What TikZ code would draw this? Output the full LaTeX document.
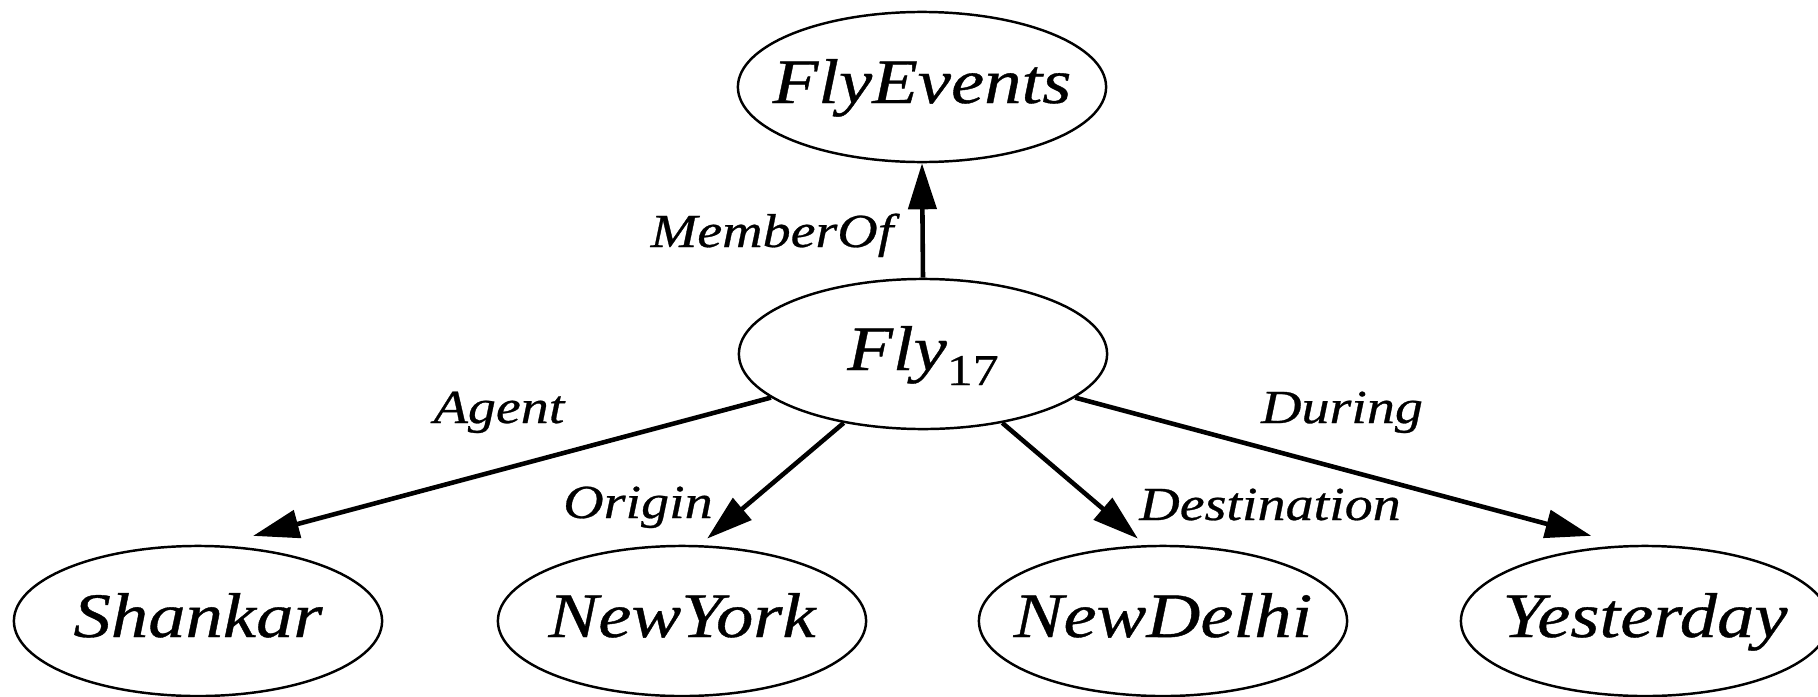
\documentclass[tikz,border=0pt]{standalone}
\usepackage{fontspec}
\setmainfont{Liberation Serif}
\newfontfamily\ndfont[FakeStretch=1.18, FakeBold=0.6, UprightFont={Liberation Serif},
  ItalicFont={Liberation Serif Italic}]{Liberation Serif}
\usetikzlibrary{arrows.meta, shapes.geometric}

\newcommand{\nm}[1]{\makebox[2.2cm]{#1}}

\begin{document}
\begin{tikzpicture}[
  x=0.01cm, y=-0.01cm,
  ent/.style={ellipse, draw, line width=0.7pt, minimum width=3.68cm,
              minimum height=1.5cm, inner sep=0pt,
              text height=0.45cm, text depth=0.13cm,
              font=\ndfont\itshape\fontsize{18}{20}\selectfont},
  rel/.style={anchor=base, inner sep=0pt,
              font=\ndfont\itshape\fontsize{13.5}{15}\selectfont},
  arr/.style={-{Triangle[length=4.6mm, width=2.8mm]}, line width=1.3pt}
]
\useasboundingbox (0,0) rectangle (1818,697);

% event and its class
\node[ent] (events) at (922, 87) {\nm{FlyEvents}};
\node[ent] (fly) at (923, 354) {\nm{Fly\raisebox{-0.15cm}{\fontsize{12.5}{13}\selectfont\upshape 17}}};

% fillers of the roles
\node[ent] (shankar) at (198, 621) {\nm{Shankar}};
\node[ent] (newyork) at (682, 621) {\nm{NewYork}};
\node[ent] (newdelhi) at (1163, 621) {\nm{NewDelhi}};
\node[ent] (yesterday) at (1645, 621) {\nm{Yesterday}};

% relations
\draw[arr] (fly.north) -- (events.south);
\draw[arr, shorten >=0.36cm] (fly.196) -- (shankar.75);
\draw[arr, shorten >=0.1cm] (fly.221) -- (newyork.77);
\draw[arr, shorten >=0.1cm] (fly.319) -- (newdelhi.103);
\draw[arr, shorten >=0.36cm] (fly.344) -- (yesterday.104);

% relation names
\node[rel] (lmember) at (772, 247) {MemberOf};
\node[rel] (lagent) at (499, 423) {Agent};
\node[rel] (lorigin) at (638, 518) {Origin};
\node[rel] (ldest) at (1270, 520) {Destination};
\node[rel] (lduring) at (1342, 423) {During};
\end{tikzpicture}
\end{document}
